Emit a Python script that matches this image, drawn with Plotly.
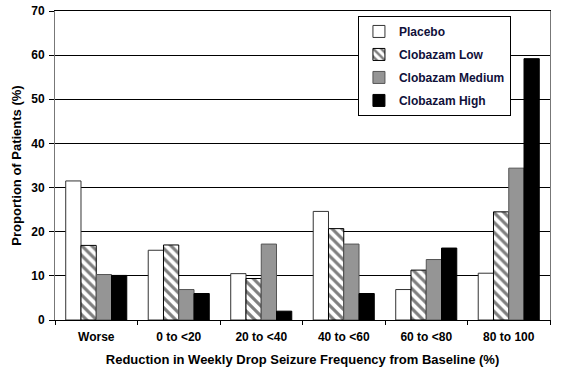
import plotly.graph_objects as go

categories = ["Worse", "0 to <20", "20 to <40", "40 to <60", "60 to <80", "80 to 100"]
placebo = [31.5, 15.8, 10.5, 24.6, 6.9, 10.6]
clobazam_low = [16.9, 17.0, 9.4, 20.7, 11.3, 24.5]
clobazam_medium = [10.3, 6.9, 17.2, 17.2, 13.7, 34.4]
clobazam_high = [10.1, 6.0, 2.0, 6.0, 16.3, 59.2]
y_ticks = [0, 10, 20, 30, 40, 50, 60, 70]

FONT = "Arial, Liberation Sans, sans-serif"

fig = go.Figure()
fig.add_trace(go.Bar(name="Placebo", x=categories, y=placebo, legendgroup="a",
                     marker=dict(color="white", line=dict(color="#333333", width=1))))
fig.add_trace(go.Bar(name="Clobazam Low", x=categories, y=clobazam_low, legendgroup="b",
                     marker=dict(color="white", line=dict(color="black", width=1),
                                 pattern=dict(shape="\\", fgcolor="black", bgcolor="white",
                                              size=7, solidity=0.45))))
fig.add_trace(go.Bar(name="Clobazam Medium", x=categories, y=clobazam_medium, legendgroup="c",
                     marker=dict(color="#959595", line=dict(color="#555555", width=1))))
fig.add_trace(go.Bar(name="Clobazam High", x=categories, y=clobazam_high, legendgroup="d",
                     marker=dict(color="black", line=dict(color="black", width=1))))

fig.update_layout(
    width=563, height=387,
    margin=dict(l=55, r=13, t=11, b=67, autoexpand=False),
    paper_bgcolor="white", plot_bgcolor="white",
    barmode="group", bargap=0.26, bargroupgap=0,
    font=dict(family=FONT, size=12, color="black", weight="bold"),
    showlegend=True,
    legend=dict(x=0.612, y=0.984, xanchor="left", yanchor="top",
                bgcolor="white", bordercolor="black", borderwidth=1,
                font=dict(family=FONT, size=12, color="#10103a", weight="bold"),
                tracegroupgap=4, itemwidth=30),
    xaxis=dict(
        title=dict(text="Reduction in Weekly Drop Seizure Frequency from Baseline (%)",
                   font=dict(family=FONT, size=13, weight="bold"), standoff=11),
        automargin=False,
        showline=True, linecolor="black", linewidth=1, mirror=True,
        ticks="outside", tickson="boundaries", ticklen=4, tickcolor="black",
        ticklabelstandoff=6,
        tickfont=dict(family=FONT, size=12, weight="bold"),
        showgrid=False,
    ),
    yaxis=dict(
        title=dict(text="Proportion of Patients (%)",
                   font=dict(family=FONT, size=13, weight="bold"), standoff=6),
        automargin=False,
        range=[0, 70], tickvals=y_ticks,
        showline=True, linecolor="#777777", linewidth=1, mirror=True,
        ticks="outside", ticklen=5, tickcolor="black",
        ticklabelstandoff=2,
        showgrid=True, gridcolor="black", gridwidth=1,
        tickfont=dict(family=FONT, size=12, weight="bold"),
        zeroline=False,
    ),
)

fig.write_html(
    "out.html",
    config={"displayModeBar": False},
    post_script="document.body.style.margin='0';document.body.style.padding='0';",
)
